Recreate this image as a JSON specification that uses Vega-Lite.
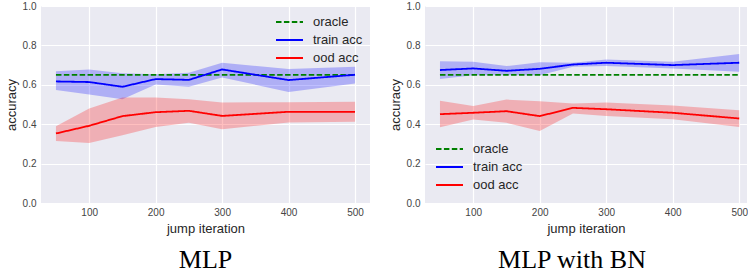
{
  "$schema": "https://vega.github.io/schema/vega-lite/v6.json",
  "padding": {"left": 5, "top": 1, "right": 0, "bottom": 0},
  "background": "white",
  "config": {
    "view": {"fill": "#EAEAF2", "stroke": null},
    "axis": {"domain": false, "ticks": false, "labelOverlap": false, "gridColor": "white", "gridWidth": 1.2, "labelFont": "Liberation Sans", "labelFontSize": 10, "labelColor": "#444444", "titleFont": "Liberation Sans", "titleFontSize": 13, "titleFontWeight": "normal", "titleColor": "#262626"},
    "title": {"font": "Liberation Serif", "fontSize": 26, "fontWeight": "normal", "color": "black", "orient": "bottom"}
  },
  "datasets": {
    "mlp": [
      {"x": 50, "series": "oracle", "y": 0.65},
      {"x": 100, "series": "oracle", "y": 0.65},
      {"x": 150, "series": "oracle", "y": 0.65},
      {"x": 200, "series": "oracle", "y": 0.65},
      {"x": 250, "series": "oracle", "y": 0.65},
      {"x": 300, "series": "oracle", "y": 0.65},
      {"x": 400, "series": "oracle", "y": 0.65},
      {"x": 500, "series": "oracle", "y": 0.65},
      {"x": 50, "series": "train acc", "y": 0.617, "lo": 0.573, "hi": 0.669},
      {"x": 100, "series": "train acc", "y": 0.614, "lo": 0.551, "hi": 0.678},
      {"x": 150, "series": "train acc", "y": 0.590, "lo": 0.527, "hi": 0.658},
      {"x": 200, "series": "train acc", "y": 0.629, "lo": 0.602, "hi": 0.654},
      {"x": 250, "series": "train acc", "y": 0.625, "lo": 0.590, "hi": 0.661},
      {"x": 300, "series": "train acc", "y": 0.678, "lo": 0.637, "hi": 0.712},
      {"x": 400, "series": "train acc", "y": 0.624, "lo": 0.564, "hi": 0.680},
      {"x": 500, "series": "train acc", "y": 0.651, "lo": 0.607, "hi": 0.692},
      {"x": 50, "series": "ood acc", "y": 0.353, "lo": 0.315, "hi": 0.390},
      {"x": 100, "series": "ood acc", "y": 0.392, "lo": 0.305, "hi": 0.480},
      {"x": 150, "series": "ood acc", "y": 0.441, "lo": 0.344, "hi": 0.536},
      {"x": 200, "series": "ood acc", "y": 0.461, "lo": 0.386, "hi": 0.536},
      {"x": 250, "series": "ood acc", "y": 0.468, "lo": 0.407, "hi": 0.527},
      {"x": 300, "series": "ood acc", "y": 0.442, "lo": 0.375, "hi": 0.510},
      {"x": 400, "series": "ood acc", "y": 0.463, "lo": 0.408, "hi": 0.512},
      {"x": 500, "series": "ood acc", "y": 0.463, "lo": 0.412, "hi": 0.514}
    ],
    "bn": [
      {"x": 50, "series": "oracle", "y": 0.65},
      {"x": 100, "series": "oracle", "y": 0.65},
      {"x": 150, "series": "oracle", "y": 0.65},
      {"x": 200, "series": "oracle", "y": 0.65},
      {"x": 250, "series": "oracle", "y": 0.65},
      {"x": 300, "series": "oracle", "y": 0.65},
      {"x": 400, "series": "oracle", "y": 0.65},
      {"x": 500, "series": "oracle", "y": 0.65},
      {"x": 50, "series": "train acc", "y": 0.675, "lo": 0.629, "hi": 0.720},
      {"x": 100, "series": "train acc", "y": 0.683, "lo": 0.649, "hi": 0.717},
      {"x": 150, "series": "train acc", "y": 0.671, "lo": 0.649, "hi": 0.695},
      {"x": 200, "series": "train acc", "y": 0.681, "lo": 0.649, "hi": 0.715},
      {"x": 250, "series": "train acc", "y": 0.703, "lo": 0.692, "hi": 0.712},
      {"x": 300, "series": "train acc", "y": 0.712, "lo": 0.695, "hi": 0.729},
      {"x": 400, "series": "train acc", "y": 0.700, "lo": 0.683, "hi": 0.717},
      {"x": 500, "series": "train acc", "y": 0.712, "lo": 0.666, "hi": 0.756},
      {"x": 50, "series": "ood acc", "y": 0.451, "lo": 0.385, "hi": 0.519},
      {"x": 100, "series": "ood acc", "y": 0.458, "lo": 0.424, "hi": 0.492},
      {"x": 150, "series": "ood acc", "y": 0.466, "lo": 0.407, "hi": 0.525},
      {"x": 200, "series": "ood acc", "y": 0.441, "lo": 0.366, "hi": 0.517},
      {"x": 250, "series": "ood acc", "y": 0.483, "lo": 0.454, "hi": 0.505},
      {"x": 300, "series": "ood acc", "y": 0.476, "lo": 0.442, "hi": 0.510},
      {"x": 400, "series": "ood acc", "y": 0.458, "lo": 0.425, "hi": 0.495},
      {"x": 500, "series": "ood acc", "y": 0.429, "lo": 0.386, "hi": 0.471}
    ]
  },
  "spacing": 19,
  "resolve": {
    "scale": {"x": "independent", "y": "independent", "color": "independent", "strokeDash": "independent", "fill": "independent"},
    "legend": {"color": "independent", "strokeDash": "independent"}
  },
  "hconcat": [
    {
      "width": 329, "height": 197,
      "data": {"name": "mlp"},
      "title": {"text": "MLP", "offset": 12},
      "encoding": {
        "x": {"field": "x", "type": "quantitative", "scale": {"domain": [27.5, 522.5], "nice": false, "zero": false}, "axis": {"values": [100, 200, 300, 400, 500], "title": "jump iteration", "labelPadding": 4, "titlePadding": 5, "labelOverlap": false}}
      },
      "layer": [
        {
          "transform": [{"filter": "datum.series !== 'oracle'"}],
          "mark": {"type": "area", "opacity": 0.25},
          "encoding": {
            "y": {"field": "lo", "type": "quantitative", "scale": {"domain": [0, 1], "nice": false}, "axis": {"title": "accuracy", "values": [0, 0.2, 0.4, 0.6, 0.8, 1], "format": ".1f", "labelPadding": 5, "titlePadding": 4, "labelOverlap": false, "labelBound": false}},
            "y2": {"field": "hi"},
            "fill": {"field": "series", "type": "nominal", "scale": {"domain": ["train acc", "ood acc"], "range": ["#0000ff", "#ff0000"]}, "legend": null}
          }
        },
        {
          "mark": {"type": "line", "strokeWidth": 1.8},
          "encoding": {
            "y": {"field": "y", "type": "quantitative", "axis": {"title": "accuracy", "values": [0, 0.2, 0.4, 0.6, 0.8, 1], "format": ".1f", "labelPadding": 5, "titlePadding": 4, "labelOverlap": false, "labelBound": false}},
            "color": {"field": "series", "type": "nominal", "scale": {"domain": ["oracle", "train acc", "ood acc"], "range": ["#008000", "#0000ff", "#ff0000"]}, "legend": {"title": null, "orient": "none", "legendX": 234, "legendY": 9, "symbolType": "stroke", "symbolSize": 729, "symbolStrokeWidth": 1.8, "clipHeight": 14, "rowPadding": 4, "labelOffset": 9, "labelFontSize": 13, "labelFont": "Liberation Sans", "labelColor": "#262626", "padding": 0}},
            "strokeDash": {"field": "series", "type": "nominal", "scale": {"domain": ["oracle", "train acc", "ood acc"], "range": [[5.5, 2.4], [1, 0], [1, 0]]}, "legend": {"title": null, "orient": "none", "legendX": 234, "legendY": 9, "symbolType": "stroke", "symbolSize": 729, "symbolStrokeWidth": 1.8, "clipHeight": 14, "rowPadding": 4, "labelOffset": 9, "labelFontSize": 13, "labelFont": "Liberation Sans", "labelColor": "#262626", "padding": 0}}
          }
        }
      ]
    },
    {
      "width": 322, "height": 197,
      "data": {"name": "bn"},
      "title": {"text": "MLP with BN", "offset": 12, "dx": -14},
      "encoding": {
        "x": {"field": "x", "type": "quantitative", "scale": {"domain": [27.5, 511.7], "nice": false, "zero": false}, "axis": {"values": [100, 200, 300, 400, 500], "title": "jump iteration", "labelPadding": 4, "titlePadding": 5, "labelOverlap": false}}
      },
      "layer": [
        {
          "transform": [{"filter": "datum.series !== 'oracle'"}],
          "mark": {"type": "area", "opacity": 0.25},
          "encoding": {
            "y": {"field": "lo", "type": "quantitative", "scale": {"domain": [0, 1], "nice": false}, "axis": {"title": "accuracy", "values": [0, 0.2, 0.4, 0.6, 0.8, 1], "format": ".1f", "labelPadding": 5, "titlePadding": 4, "labelOverlap": false, "labelBound": false}},
            "y2": {"field": "hi"},
            "fill": {"field": "series", "type": "nominal", "scale": {"domain": ["train acc", "ood acc"], "range": ["#0000ff", "#ff0000"]}, "legend": null}
          }
        },
        {
          "mark": {"type": "line", "strokeWidth": 1.8},
          "encoding": {
            "y": {"field": "y", "type": "quantitative", "axis": {"title": "accuracy", "values": [0, 0.2, 0.4, 0.6, 0.8, 1], "format": ".1f", "labelPadding": 5, "titlePadding": 4, "labelOverlap": false, "labelBound": false}},
            "color": {"field": "series", "type": "nominal", "scale": {"domain": ["oracle", "train acc", "ood acc"], "range": ["#008000", "#0000ff", "#ff0000"]}, "legend": {"title": null, "orient": "none", "legendX": 10, "legendY": 136, "symbolType": "stroke", "symbolSize": 729, "symbolStrokeWidth": 1.8, "clipHeight": 14, "rowPadding": 4, "labelOffset": 9, "labelFontSize": 13, "labelFont": "Liberation Sans", "labelColor": "#262626", "padding": 0}},
            "strokeDash": {"field": "series", "type": "nominal", "scale": {"domain": ["oracle", "train acc", "ood acc"], "range": [[5.5, 2.4], [1, 0], [1, 0]]}, "legend": {"title": null, "orient": "none", "legendX": 10, "legendY": 136, "symbolType": "stroke", "symbolSize": 729, "symbolStrokeWidth": 1.8, "clipHeight": 14, "rowPadding": 4, "labelOffset": 9, "labelFontSize": 13, "labelFont": "Liberation Sans", "labelColor": "#262626", "padding": 0}}
          }
        }
      ]
    }
  ]
}
